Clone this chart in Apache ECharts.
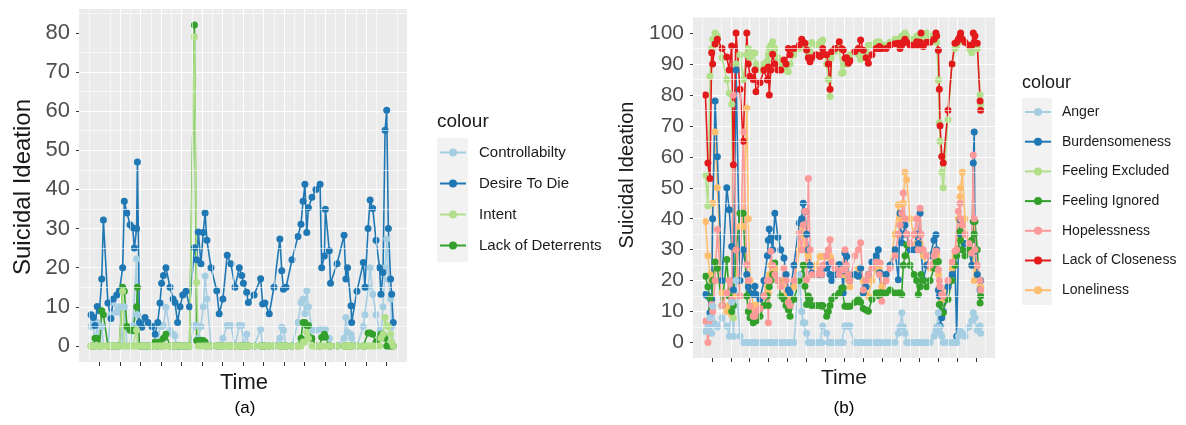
<!DOCTYPE html>
<html><head><meta charset="utf-8">
<script src="https://cdn.jsdelivr.net/npm/echarts@6/dist/echarts.min.js"></script>
<style>html,body{margin:0;padding:0;background:#fff}#c{width:1186px;height:425px}</style>
</head><body><div id="c"></div>
<script>
// ---------- Panel (a) data ----------
const timeA = [-4.1,-3.0,-2.2,-1.1,0.0,1.1,1.9,4.1,5.6,6.7,
 8.4,9.7,11.3,12.1,13.4,14.9,16.2,17.0,18.1,18.5,
 19.5,20.6,22.2,23.7,25.6,27.1,28.4,29.5,30.3,31.2,
 32.4,34.4,35.9,36.8,38.1,39.3,40.6,42.2,43.9,46.3,
 47.4,48.2,49.5,50.6,51.5,52.4,54.4,57.2,58.4,60.2,
 62.3,64.1,66.1,68.2,69.4,70.2,71.8,72.6,75.4,78.6,
 79.6,80.7,82.8,85.1,88.0,88.9,89.7,91.0,93.9,96.8,
 98.3,99.3,100.2,101.1,101.9,103.7,105.6,107.6,108.4,109.7,
 110.2,112.1,112.7,115.9,119.3,120.2,121.0,122.7,123.0,125.6,
 128.7,129.5,131.0,132.0,133.3,134.9,136.6,137.3,138.3,139.3,
 140.1,140.9,142.0,142.5,143.3];
const controllability = [5,6,0,6,0,5,0,0,8,11.1,
 8.6,10,0,10,0,0,5.2,5,22.2,8,
 0,0,0,0,0,0,0,5.2,5,5.2,
 9.9,4,3,2.6,0,0,0,0,0,5.2,
 5.2,2,5,10,17.9,12,0,0,0,2,
 5.2,5.2,0,5.2,5.2,0,3,0,0,4.3,
 0,0,0,0,2,4.8,4,0,0,6,
 11.1,12,8.2,14.1,10,4,4,4.3,4.3,3,
 4.3,2,0,0,2,7.3,3.5,3,2,0,
 5,8,15,20,13.2,8,4,3,10,20,
 27.3,17,12,5,0];
const desireToDie = [8,7.3,5.2,10.1,9,17.1,32.2,11,7,12,
 13,14.1,20,37,34,31,30.2,25,30,47,
 6,4.8,7.3,6,5,3,6,11,16,18,
 20,15,12,11.1,6,10,13,14,10,25.1,
 22,29.1,21,29,34,27,20,14.1,8.2,12,
 23.2,21,15,20,18,16,13.7,11.1,13,17.2,
 10.7,11,8.2,15,27.3,19.2,14.5,15,22,28,
 31.1,37,41.3,29,35.3,38,40,41.3,20,23,
 34.9,24.3,16,21,28.3,17.1,20,10.3,6,14,
 21.3,15,30,37.3,35.1,27,20,13.2,18.8,55.1,
 60.2,30,17.1,13.2,6];
const intent = [0,0,0,0,0,0,0,0,0,0,
 0,0,14,0,0,0,0,0,4,0,
 0,0,0,0,0,0,0,0,0,0,
 0,0,0,0,0,0,0,0,0,79,
 16.2,0,0,0,0,0,0,0,0,0,
 0,0,0,0,0,0,0,0,0,0,
 0,0,0,0,0,0,0,0,0,0,
 0,1,1,3.5,2,0,0,0,0,0,
 0,0,0,0,0,0,0,0,0,0,
 0,0,0,0,0,0,0,2,3,7.3,
 5.2,5,3,1,0];
const lackOfDeterrents = [0,0,2,2,0,9,8,0,0,0,
 0,0,15,14,5,4,3.9,4.3,10,15,
 0,0,0,0,0,1,0,1,0,2,
 3,0,0,0,0,0,0,0,0,82,
 1.4,1.4,1.4,1.4,1,0,0,0,0,0,
 0,0,0,0,0,0,0,0,0,0,
 0,0,0,0,0,0,0,0,0,0,
 2,6,6,5.2,5.2,2,0,0,2.2,3,
 2.2,0,0,0,0,0,0,0,0,0,
 0,0,3.3,3.3,3,1,2,3,3,2,
 0,0,0,0,0];

// ---------- Panel (b) data ----------
const timeB = [-3.4,-2.1,-1.0,-0.1,0.4,1.7,2.9,5.4,7.9,9.2,
 10.5,11.4,12.8,14.9,16.6,18.5,19.3,20.2,21.9,22.8,
 23.4,25.5,27.6,29.4,29.9,30.4,31.2,32.2,33.4,35.0,
 36.5,38.2,39.3,40.5,41.4,43.5,46.3,47.6,48.4,49.3,
 50.2,51.1,52.0,52.9,55.2,57.3,58.2,58.7,60.8,61.7,
 62.6,63.5,65.2,67.5,68.8,69.6,70.5,71.4,72.3,73.2,
 75.8,77.6,78.8,80.2,81.7,82.9,84.8,87.0,88.2,88.7,
 89.1,90.0,92.3,94.4,97.0,98.8,99.7,100.6,101.4,102.3,
 103.2,105.0,107.1,108.5,109.4,110.3,110.8,112.0,113.8,115.6,
 117.7,118.7,119.1,120.0,120.5,120.9,121.8,122.6,125.1,127.2,
 128.8,129.7,130.6,131.5,131.8,132.7,134.1,136.2,137.7,138.5,
 139.0,139.4,140.6,142.1,142.4];
const anger = [3.6,5,8,3,11.7,6,5,8,5.3,2,
 13,2,20,2,0,0,0,0,0,0,
 0,0,0,0,0,0,0,0,0,0,
 0,0,0,0,0,0,21.9,10,6.4,6.4,
 3,0,0,0,0,0,0,5.3,3,0,
 0,0,0,0,0,0,5.3,5.3,5.3,5.3,
 0,0,0,0,0,0,0,0,0,0,
 0,0,0,0,0,3,5,9.6,5,3,
 0,0,0,0,0,0,0,0,0,0,
 2,4,5,9.6,5,3,2,0,0,0,
 0,0,2,3.6,3.6,3,2,5,7,9.6,
 8,8,4,5.3,3];
const burdensomeness = [15.5,15,9.6,14,40,78,60,20,50,42.9,
 31,17,88,20,30,22,18,16,15.5,18.2,
 15.5,14,20,28,33,36.7,33.8,30,41.8,34,
 30,27.3,22,17,16,25,38.6,40,45,42.4,
 35,30,25,22.5,22,22,21.9,24,24,25.2,
 22,20,22,25.2,23,16,28.9,27.8,22,20,
 22,21.4,24,16,18,22,26,28,30,22.5,
 22.5,16,22,25,30,20.3,41.8,32.2,35,38,
 35,30,30,35,32,41.8,30,20.3,25,28,
 33,34.8,30,17,15,5.3,8,10,18,22,
 25.2,2,30,39.7,35,30,32,30,25,58,
 68,29.5,22,17,20];
const feelingExcluded = [54,44.2,86,95,98,100,99,92,85,80.5,
 77,8,90,93,85,93,95,92,93.5,93.5,
 90,88,90,91,93,95,96,97.2,95,92,
 90,90,88,87.5,90,93,95,96,97,96,
 95,93,94,96.9,96,97,97,97.7,90,85,
 79.5,92,94,95,87,87.2,90,90,92,93,
 94,93,91.5,92,94,96,96,97,97,97.2,
 96,96,96,97,98,98,98,99,99,100,
 99,98,98,99,98,99,99,98,100,99,
 99,99,97,84.8,71,65,55,50,72,90,
 95,96,97,98,99,98,97,95,93.6,96,
 97,96,95,80,77];
const feelingIgnored = [21.4,18,14.4,11,20,26,24,12,26.8,15,
 10,12,30,41.8,41.8,15,10,8,6.4,8,
 7,8.5,12,15,12,18,20,22,25.7,20,
 15,14,12,10.6,8.5,14,20,22,25,18.2,
 12.3,15,14,12,12,12,11.7,12,8.5,10,
 12,14,15,16,17.6,17.6,11.7,11.7,11.7,11.7,
 13,14,13,11,10.5,10.1,14,16,16,15,
 16,16,16,17,16,16,16,15.5,25,28,
 31.6,25,22,20,15.5,18,22,20,18,20,
 24,26,26.2,26.2,12.3,12.3,10,9.6,14,20,
 25,28,30,35.9,33,30,28,30,33,39.1,
 35,39.1,30,12.8,15];
const hopelessness = [6.9,0,6.9,12.3,10,20,36.5,12,16,20,
 13.9,80,30,15,68,25.2,20,11.7,8.5,8.5,
 10,11,15,20,6.4,20,29.5,25,22,20,
 18,24.1,20,13,12,20,35.4,30,38,42.4,
 20.3,53,30,22,22,23.5,22,25,28,30,
 33.2,26,24,22,23.5,23.5,30,25,22,20,
 28,30,32.2,17,20,22,24,26,25.7,22,
 25.7,13.3,20,24,28,35,38,41.8,48.3,40,
 35,32,35,40,30,43.4,35,30,28,25,
 28,29.5,29.5,23.5,20,18,15.5,15,20,26,
 29.5,30,42.4,45,40,38,35,32,28.9,60.6,
 40,30,25,20,17];
const lackOfCloseness = [80,58,53,93.6,90,96.4,98,95,92.2,88,
 95.8,57.4,100,81.8,65,100,90,86,85,88,
 81,84,88,84.8,89,80,88,93.1,90,88,
 88,91.3,90,95,93,95,96,98,97,96.7,
 94.5,92,90.7,92,93,92.4,93,95,93,90,
 81.8,94,95,97.2,95,94.5,91.8,92,90.2,91,
 94,95,97.7,94.4,92,90.2,93,95,95,95.6,
 95,95,95,96,96.5,96.7,95,96,97,98,
 97,96,96,97.2,96,97,100,95.6,97,97,
 98,100,99,94.4,81.8,70,60.1,58,75,90,
 96.7,97,98,99,100,98,97,96,96,100,
 97,99,96.7,78,75];
const loneliness = [39.1,28,22,20,45,68,50,16,10,12,
 9,15,20,37.5,37.5,75.7,40,20,12,10,
 12,14,15,18,16,22,25,22,24,20,
 18,20,16,14,14,18,30,38,35,30,
 25,28,25,22,25,27.8,27.8,27.8,27.8,27.8,
 27.8,27,25,25,24,22,22,22,20,18,
 22,24,24,20,18,15,20,24,25,24,
 22,18,22,25,35,44.5,40,38,45,55,
 52.6,40,35,32,30,32,30,28,25,24,
 25,30,28,22,18,16,14,14,18,24,
 28,30,40,47.2,50,55,40,30,25,30,
 20,25,22,18,18];

// ---------- tick labels ----------
const yTicksA = [0,10,20,30,40,50,60,70,80];
const yTicksB = [0,10,20,30,40,50,60,70,80,90,100];
const xTicks = [0,10,20,30,40,50,60,70,80,90,100,110,120,130,140];

const namesA = ['Controllabilty','Desire To Die','Intent','Lack of Deterrents'];
const namesB = ['Anger','Burdensomeness','Feeling Excluded','Feeling Ignored','Hopelessness','Lack of Closeness','Loneliness'];

const FONT = '"Liberation Sans", Arial, sans-serif';
const zip = (t, v) => t.map((x, i) => [x, v[i]]);
function mk(name, color, t, vals, idx, size) {
  return {
    type: 'line', name, xAxisIndex: idx, yAxisIndex: idx,
    data: zip(t, vals), symbol: 'circle', symbolSize: size,
    showSymbol: true, showAllSymbol: true,
    itemStyle: { color }, lineStyle: { color, width: 1.6 },
    emphasis: { disabled: true }, animation: false
  };
}
function minorLines(idx, ys, xs) {
  return {
    type: 'line', xAxisIndex: idx, yAxisIndex: idx, data: [], silent: true, animation: false,
    markLine: {
      silent: true, animation: false, symbol: ['none', 'none'], label: { show: false },
      lineStyle: { color: '#ffffff', width: 0.6, type: 'solid' },
      data: ys.map(v => ({ yAxis: v })).concat(xs.map(v => ({ xAxis: v })))
    }
  };
}
const minorX = xTicks.map(v => v - 5).concat([145]);
const minorYA = yTicksA.map(v => v + 5);
const minorYB = yTicksB.slice(0, 10).map(v => v + 5);

function xAxisDef(idx) {
  return {
    type: 'value', gridIndex: idx, min: -10, max: 150, interval: 10, position: 'bottom',
    axisLine: { show: false, onZero: false },
    axisTick: { show: true, length: 4, customValues: xTicks, lineStyle: { color: '#333', width: 1 } },
    axisLabel: { show: false },
    splitLine: { show: true, showMinLine: false, showMaxLine: false, lineStyle: { color: '#ffffff', width: 1.1 } }
  };
}
function yAxisDef(idx, min, max, split, ticks, fs, margin) {
  return {
    type: 'value', gridIndex: idx, min, max, splitNumber: split, position: 'left',
    axisLine: { show: false, onZero: false },
    axisTick: { show: true, length: 3, customValues: ticks, lineStyle: { color: '#333', width: 1 } },
    axisLabel: { show: true, customValues: ticks,
      color: '#4d4d4d', fontSize: fs, fontFamily: FONT, margin },
    splitLine: { show: true, showMinLine: false, showMaxLine: false, lineStyle: { color: '#ffffff', width: 1.1 } }
  };
}

const colorsA = ['#a6cee3', '#1f78b4', '#b2df8a', '#33a02c'];
const colorsB = { Anger: '#a6cee3', Burdensomeness: '#1f78b4', 'Feeling Excluded': '#b2df8a',
  'Feeling Ignored': '#33a02c', Hopelessness: '#fb9a99', 'Lack of Closeness': '#e31a1c', Loneliness: '#fdbf6f' };

const option = {
  animation: false,
  backgroundColor: '#ffffff',
  grid: [
    { left: 79, top: 9, width: 328, height: 353, backgroundColor: '#ebebeb', show: true, borderWidth: 0 },
    { left: 693, top: 17.5, width: 302, height: 340.5, backgroundColor: '#ebebeb', show: true, borderWidth: 0 }
  ],
  xAxis: [xAxisDef(0), xAxisDef(1)],
  yAxis: [yAxisDef(0, -4.1, 86.1, 9, yTicksA, 22, 9), yAxisDef(1, -5, 105, 11, yTicksB, 21, 9)],
  legend: [
    { data: namesA, orient: 'vertical', left: 439, top: 145, itemWidth: 26, itemHeight: 10, itemGap: 16,
      padding: 0, selectedMode: false,
      textStyle: { fontSize: 15, color: '#1a1a1a', fontFamily: FONT, padding: [0, 0, 0, 8] } },
    { data: namesB, orient: 'vertical', left: 1024, top: 105, itemWidth: 26, itemHeight: 10, itemGap: 15.7,
      padding: 0, selectedMode: false,
      textStyle: { fontSize: 14, color: '#1a1a1a', fontFamily: FONT, padding: [0, 0, 0, 6] } }
  ],
  graphic: [
    { type: 'rect', z: -10, shape: { x: 437, y: 138, width: 31, height: 124 }, style: { fill: '#f2f2f2' } },
    { type: 'rect', z: -10, shape: { x: 1022, y: 98, width: 30, height: 207 }, style: { fill: '#f2f2f2' } },
    { type: 'text', x: 437, y: 122, style: { text: 'colour', fontSize: 19, fontFamily: FONT, fill: '#1a1a1a', align: 'left', verticalAlign: 'middle' } },
    { type: 'text', x: 1022, y: 83, style: { text: 'colour', fontSize: 18, fontFamily: FONT, fill: '#1a1a1a', align: 'left', verticalAlign: 'middle' } },
    { type: 'text', x: 244, y: 383, style: { text: 'Time', fontSize: 22, fontFamily: FONT, fill: '#1a1a1a', align: 'center', verticalAlign: 'middle' } },
    { type: 'text', x: 844, y: 378, style: { text: 'Time', fontSize: 21, fontFamily: FONT, fill: '#1a1a1a', align: 'center', verticalAlign: 'middle' } },
    { type: 'text', x: 245, y: 408, style: { text: '(a)', fontSize: 17, fontFamily: FONT, fill: '#000', align: 'center', verticalAlign: 'middle' } },
    { type: 'text', x: 844, y: 408, style: { text: '(b)', fontSize: 17, fontFamily: FONT, fill: '#000', align: 'center', verticalAlign: 'middle' } },
    { type: 'text', x: 23, y: 187, rotation: Math.PI / 2, style: { text: 'Suicidal Ideation', fontSize: 24, fontFamily: FONT, fill: '#1a1a1a', align: 'center', verticalAlign: 'middle' } },
    { type: 'text', x: 627, y: 175, rotation: Math.PI / 2, style: { text: 'Suicidal Ideation', fontSize: 20, fontFamily: FONT, fill: '#1a1a1a', align: 'center', verticalAlign: 'middle' } }
  ],
  series: [
    minorLines(0, minorYA, minorX),
    minorLines(1, minorYB, minorX),
    mk('Controllabilty', colorsA[0], timeA, controllability, 0, 7),
    mk('Desire To Die', colorsA[1], timeA, desireToDie, 0, 7),
    mk('Lack of Deterrents', colorsA[3], timeA, lackOfDeterrents, 0, 7),
    mk('Intent', colorsA[2], timeA, intent, 0, 7),
    mk('Loneliness', colorsB.Loneliness, timeB, loneliness, 1, 7),
    mk('Feeling Excluded', colorsB['Feeling Excluded'], timeB, feelingExcluded, 1, 7),
    mk('Burdensomeness', colorsB.Burdensomeness, timeB, burdensomeness, 1, 7),
    mk('Feeling Ignored', colorsB['Feeling Ignored'], timeB, feelingIgnored, 1, 7),
    mk('Hopelessness', colorsB.Hopelessness, timeB, hopelessness, 1, 7),
    mk('Lack of Closeness', colorsB['Lack of Closeness'], timeB, lackOfCloseness, 1, 7),
    mk('Anger', colorsB.Anger, timeB, anger, 1, 7)
  ]
};
const chart = echarts.init(document.getElementById('c'), null, { renderer: 'canvas' });
chart.setOption(option);
</script>
</body></html>
